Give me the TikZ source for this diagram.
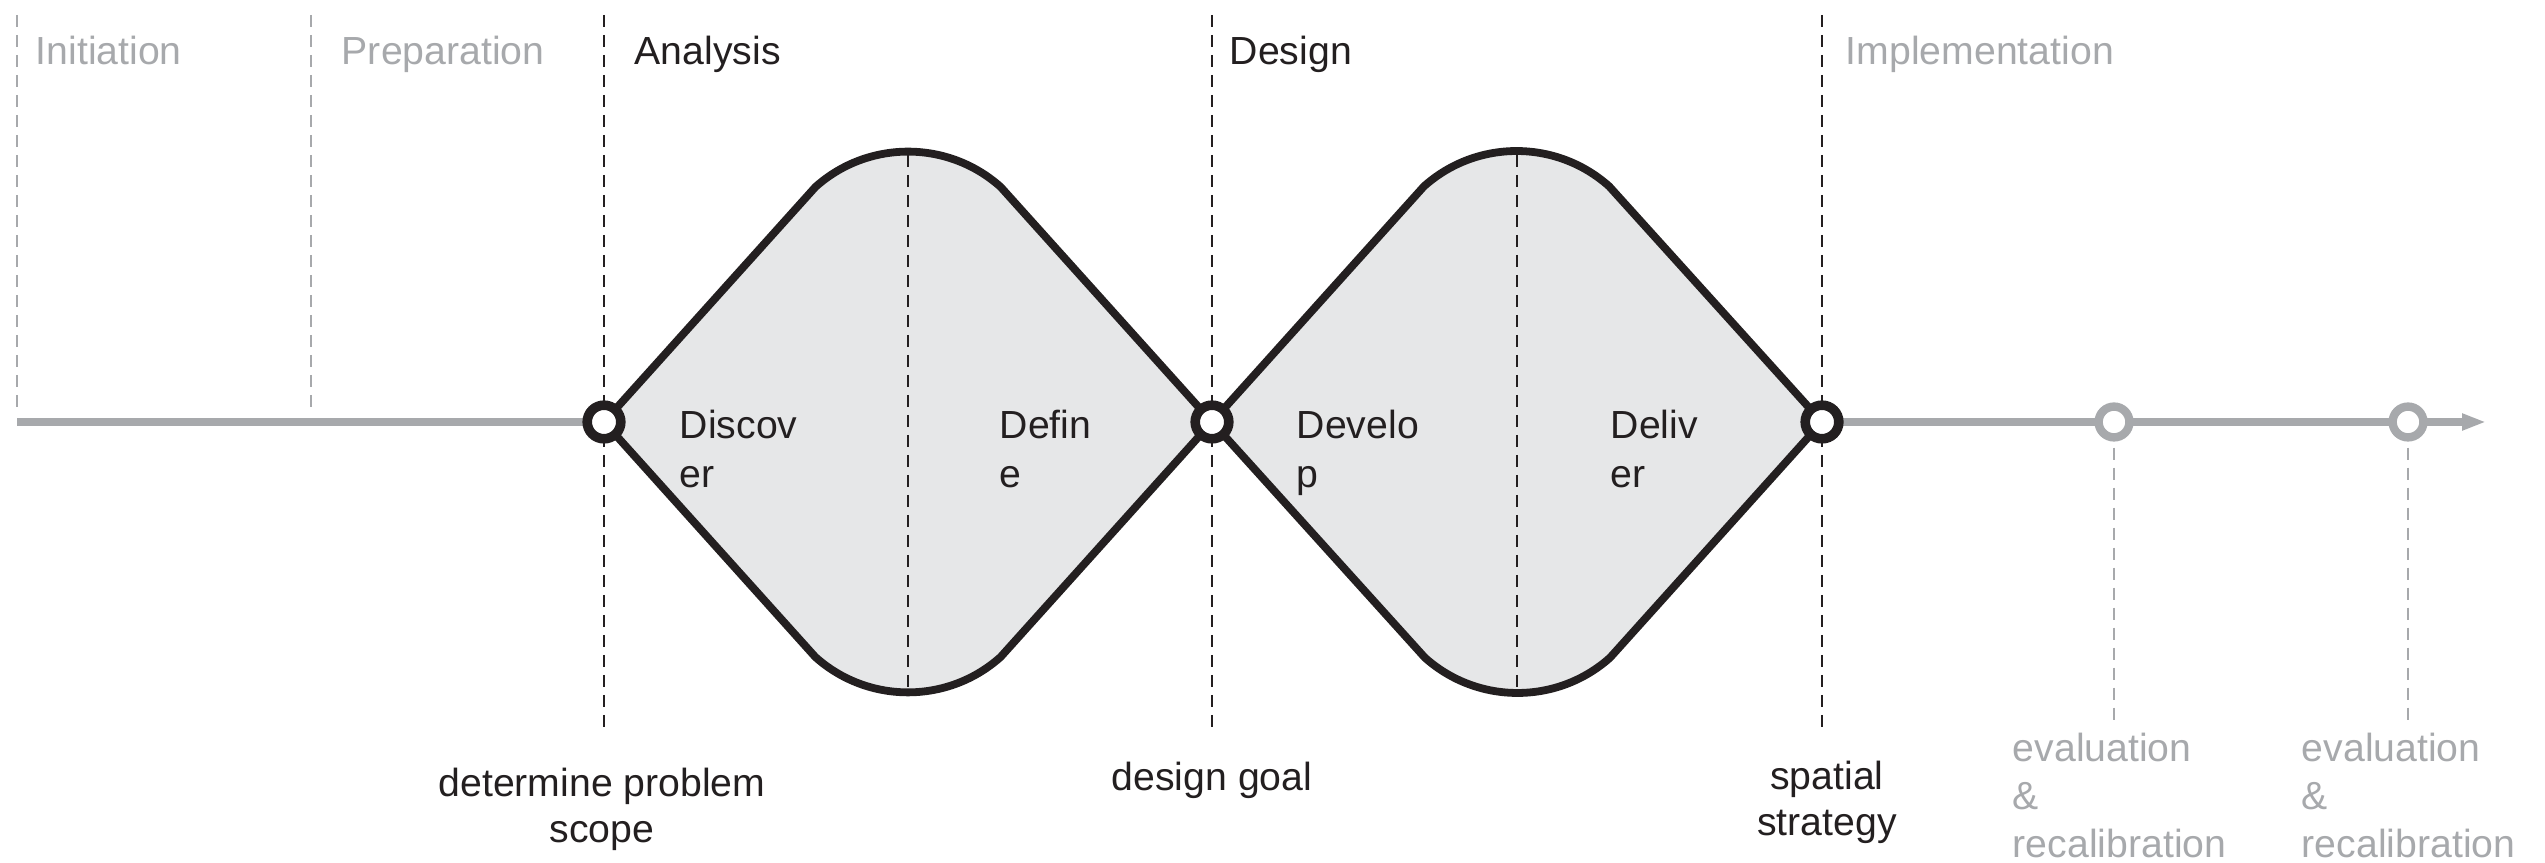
\documentclass[tikz,border=0pt]{standalone}
\usepackage{fontspec}
\setmainfont{Liberation Sans}
\usetikzlibrary{arrows.meta}
\definecolor{ink}{HTML}{231F20}
\definecolor{lgray}{HTML}{A7A9AC}
\definecolor{dfill}{HTML}{E6E7E8}
\newcommand\twolinesL[2]{\begin{tabular}[t]{@{}l@{}}#1\\#2\end{tabular}}
\newcommand\twolinesC[2]{\begin{tabular}[t]{@{}c@{}}#1\\#2\end{tabular}}
\begin{document}
\begin{tikzpicture}[x=0.25pt,y=0.25pt,
  dline/.style={ink, line width=0.6pt, dash pattern=on 3pt off 2pt},
  gdline/.style={lgray, line width=0.6pt, dash pattern=on 3pt off 2pt},
  tline/.style={lgray, line width=2.1pt},
  dshape/.style={draw=ink, fill=dfill, line width=1.95pt, line join=round},
  bcirc/.style={circle, draw=ink, fill=white, line width=2.4pt, minimum size=8.4pt, inner sep=0pt},
  gcirc/.style={circle, draw=lgray, fill=white, line width=2.1pt, minimum size=7.7pt, inner sep=0pt},
  lab/.style={inner sep=0pt, font=\fontsize{9.8}{12.2}\selectfont, text=ink},
  glab/.style={lab, text=lgray},
  tightlab/.style={font=\fontsize{9.8}{11.5}\selectfont}]
\useasboundingbox (0,0) rectangle (2545,-863);

% key coordinates
\coordinate (p1) at (604,-422);
\coordinate (p2) at (1212,-422);
\coordinate (p3) at (1822,-422);
\coordinate (p4) at (2114,-422);
\coordinate (p5) at (2408,-422);
\coordinate (s) at (17,-422);
\coordinate (e) at (2486,-422);

% phase dividers
\coordinate (t0) at (17,-15);   \coordinate (u0) at (17,-407);
\coordinate (tp) at (311,-15);  \coordinate (up) at (311,-407);
\coordinate (t1) at (604,-15);  \coordinate (u1) at (604,-727);
\coordinate (t2) at (1212,-15); \coordinate (u2) at (1212,-727);
\coordinate (t3) at (1822,-15); \coordinate (u3) at (1822,-727);
\coordinate (u4) at (2114,-727);
\coordinate (u5) at (2408,-727);

\draw[gdline] (t0) -- (u0);
\draw[gdline] (tp) -- (up);
\draw[dline] (t1) -- (u1);
\draw[dline] (t2) -- (u2);
\draw[dline] (t3) -- (u3);

% timeline
\draw[tline] (s) -- (p1);
\draw[tline, -{Triangle[length=6pt,width=3.9pt]}] (p3) -- (e);

% diamonds
\draw[dshape] (p1) -- ++(211.4,235) arc[start angle=131.8,end angle=48.2,radius=139]
  -- (p2) -- ++(-211.4,-235) arc[start angle=-48.2,end angle=-131.8,radius=139] -- cycle;
\draw[dshape] (p2) -- ++(211.9,235.6) arc[start angle=131.8,end angle=48.2,radius=139]
  -- (p3) -- ++(-211.9,-235.6) arc[start angle=-48.2,end angle=-131.8,radius=139] -- cycle;

\coordinate (m1t) at (908,-155); \coordinate (m1b) at (908,-690);
\coordinate (m2t) at (1517,-155); \coordinate (m2b) at (1517,-690);
\draw[dline] (m1t) -- (m1b);
\draw[dline] (m2t) -- (m2b);

% milestones
\node[bcirc] (c1) at (p1) {};
\node[bcirc] (c2) at (p2) {};
\node[bcirc] (c3) at (p3) {};
\node[gcirc] (c4) at (p4) {};
\node[gcirc] (c5) at (p5) {};
\draw[gdline] ([yshift=-1.5pt]c4.south) -- (u4);
\draw[gdline] ([yshift=-1.5pt]c5.south) -- (u5);

% phase titles
\node[glab, anchor=base west] (tInit) at (35,-65) {Initiation};
\node[glab, anchor=base west] (tPrep) at (341,-65) {Preparation};
\node[lab, anchor=base west] (tAna) at (634,-65) {Analysis};
\node[lab, anchor=base west] (tDes) at (1229,-65) {Design};
\node[glab, anchor=base west] (tImp) at (1845,-65) {Implementation};

% diamond labels
\node[lab, anchor=base west] (lDis) at (679,-439) {\twolinesL{Discov}{er}};
\node[lab, anchor=base west] (lDef) at (999,-439) {\twolinesL{Defin}{e}};
\node[lab, anchor=base west] (lDev) at (1296,-439) {\twolinesL{Develo}{p}};
\node[lab, anchor=base west] (lDel) at (1610,-439) {\twolinesL{Deliv}{er}};

% milestone labels
\node[lab, tightlab, anchor=base] (mScope) at (602,-797) {\twolinesC{determine problem}{scope}};
\node[lab, anchor=base] (mGoal) at (1212,-791) {design goal};
\node[lab, tightlab, anchor=base] (mStrat) at (1827,-790) {\twolinesC{spatial}{strategy}};
\node[glab, anchor=base west] (mEv1a) at (2012,-762) {evaluation};
\node[glab, anchor=base west] (mEv1b) at (2012,-810) {\&};
\node[glab, anchor=base west] (mEv1c) at (2012,-858) {recalibration};
\node[glab, anchor=base west] (mEv2a) at (2301,-762) {evaluation};
\node[glab, anchor=base west] (mEv2b) at (2301,-810) {\&};
\node[glab, anchor=base west] (mEv2c) at (2301,-858) {recalibration};
\end{tikzpicture}
\end{document}
